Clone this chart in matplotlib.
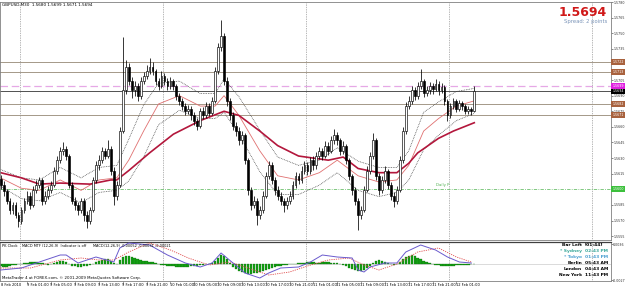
import numpy as np
import matplotlib
matplotlib.use("Agg")
import matplotlib.pyplot as plt
from matplotlib.transforms import blended_transform_factory

BASE = 1.5600  # prices below are pips above this

close_pips = [4, -2, -11, -20, -15, -25, -30, -20, -11, -6,
              -15, -1, 4, 9, -11, -6, -1, 4, 18, 28,
              37, 39, 32, 4, -11, -15, -20, -11, -25, -30,
              -20, 9, 23, 28, 37, 32, 39, 18, -6, 4,
              56, 95, 118, 104, 95, 99, 90, 104, 109, 114,
              118, 114, 104, 99, 109, 104, 99, 104, 99, 90,
              85, 80, 75, 77, 71, 66, 61, 75, 71, 80,
              73, 85, 114, 137, 147, 104, 85, 71, 61, 56,
              47, 52, 28, -1, -15, -11, -25, -20, -6, 13,
              23, 9, -1, -6, -11, -15, -11, -6, 4, 13,
              9, 18, 23, 18, 28, 23, 32, 37, 32, 42,
              37, 47, 52, 47, 37, 42, 28, 13, -1, -11,
              -25, -20, -1, 18, 32, 47, 13, -1, 9, 18,
              4, -6, -11, -1, 28, 56, 80, 85, 95, 90,
              99, 104, 93, 95, 99, 96, 101, 95, 98, 85,
              71, 80, 85, 77, 83, 80, 75, 77, 75, 94]
high_pips = [14, 8, 0, -8, -12, -12, -22, -17, -8, -2,
             -3, 3, 9, 12, 11, -2, 3, 8, 21, 32,
             41, 45, 42, 34, 7, -7, -12, -8, -8, -21,
             -17, 12, 27, 33, 41, 40, 47, 42, 21, 8,
             60, 146, 124, 121, 108, 104, 102, 108, 113, 119,
             126, 122, 116, 107, 114, 112, 107, 108, 106, 101,
             93, 88, 83, 81, 80, 74, 69, 78, 79, 84,
             83, 89, 118, 141, 163, 150, 108, 88, 74, 65,
             60, 56, 54, 30, 2, -6, -8, -16, -2, 17,
             27, 26, 12, 3, -3, -8, -7, -2, 8, 17,
             16, 22, 27, 26, 31, 32, 36, 41, 40, 46,
             45, 51, 58, 55, 49, 46, 44, 30, 15, 2,
             -8, -16, 3, 22, 36, 54, 49, 16, 13, 22,
             20, 7, -3, 3, 32, 60, 84, 90, 99, 98,
             103, 116, 106, 99, 103, 102, 106, 104, 102, 100,
             87, 83, 88, 87, 86, 85, 82, 80, 79, 99]
low_pips = [0, -6, -14, -24, -24, -28, -36, -33, -23, -14,
            -19, -17, -4, 1, -15, -14, -9, -4, 2, 15,
            25, 33, 28, 1, -14, -20, -25, -23, -30, -37,
            -33, -22, 6, 19, 25, 29, 30, 14, -15, -10,
            2, 54, 92, 100, 88, 90, 85, 87, 101, 106,
            111, 110, 100, 95, 97, 100, 95, 96, 95, 86,
            81, 76, 71, 72, 67, 62, 57, 59, 68, 69,
            70, 71, 83, 111, 133, 100, 80, 67, 57, 51,
            43, 44, 24, -5, -20, -18, -34, -29, -23, -8,
            10, 5, -5, -10, -15, -22, -19, -14, -9, 1,
            5, 6, 15, 14, 15, 19, 20, 29, 28, 30,
            33, 35, 44, 43, 33, 34, 24, 9, -5, -15,
            -39, -29, -22, -3, 15, 29, 9, -5, -4, 6,
            0, -10, -17, -14, -3, 25, 53, 77, 82, 86,
            87, 96, 89, 90, 92, 92, 94, 91, 93, 81,
            66, 69, 77, 74, 75, 76, 72, 72, 71, 74]
first_open_pips = 10

# moving averages read at a few bars
slow_bars = [0, 7, 13, 20, 30, 37, 39, 43, 50, 58, 67, 75, 80, 87, 93, 100, 110, 115, 120, 127, 133, 137, 140, 147, 152, 159]
slow_pips = [16, 11, 5, 6, 5, 9, 9, 18, 35, 53, 66, 75, 71, 56, 42, 32, 28, 31, 20, 16, 16, 25, 35, 49, 56, 64]
fast_bars = [0, 7, 13, 20, 27, 33, 39, 43, 48, 53, 60, 67, 72, 75, 80, 87, 93, 100, 107, 113, 120, 127, 133, 137, 142, 147, 153, 159]
fast_pips = [11, 1, -1, 9, -1, 9, 11, 28, 56, 82, 90, 80, 80, 90, 71, 37, 13, 9, 16, 28, 13, 7, 9, 23, 56, 68, 80, 85]
band_pips = [8, 10, 10, 12, 12, 12, 12, 20, 25, 20, 14, 12, 12, 16, 18, 20, 18, 14, 12, 12, 14, 14, 12, 14, 18, 16, 14, 12]

brown_levels = [1.5722, 1.5713, 1.5682, 1.5671]
magenta_level = 1.5699
last_price = 1.5694
green_level = 1.5600

price_ticks = [1.5555, 1.5570, 1.5585, 1.5615, 1.5630, 1.5645, 1.5660, 1.5675, 1.5690,
               1.5705, 1.5735, 1.5750, 1.5765, 1.5780]

# MACD window (values in screen units, zero = baseline)
macd_hist = [-2, -3, -3, -2, -1, -1, 0, 0, 1, 1,
             2, 2, 2, 1, 1, 0, -1, 0, 1, 2,
             3, 3, 2, 0, -2, -2, -3, -3, -2, -2,
             -1, 0, 2, 3, 4, 5, 5, 3, 1, 0,
             4, 7, 8, 8, 7, 6, 5, 4, 3, 3,
             2, 2, 1, 0, -1, -1, -2, -2, -2, -3,
             -3, -3, -3, -3, -2, -2, -2, -1, -1, 0,
             0, 1, 3, 6, 9, 8, 5, 1, -3, -5,
             -7, -8, -9, -10, -10, -9, -9, -8, -7, -6,
             -5, -4, -3, -2, -2, -1, -1, 0, 0, 0,
             1, 1, 1, 2, 2, 2, 1, 1, 2, 2,
             2, 1, 1, 1, 0, -1, -2, -4, -5, -6,
             -7, -7, -6, -4, -2, 1, 3, 4, 3, 2,
             1, 0, -1, 0, 2, 5, 7, 8, 9, 8,
             6, 5, 3, 2, 1, 0, -1, -1, -2, -2,
             -2, -2, -2, -1, -1, -1, -1, -1, 0, 0]
macd_bars = [0, 7, 13, 20, 22, 26, 32, 38, 40, 43, 50, 56, 62, 67, 71, 74, 78, 82, 87, 90, 94, 100, 104, 108, 113, 118, 120, 122, 124, 129, 133, 136, 141, 146, 150, 154, 158]
macd_main = [-6, -4, 2, 9, 9, 1, 7, 2, 16, 21, 19, 9, 1, -3, 1, 11, 1, -9, -14, -9, -4, -3, 2, 9, 7, 6, -6, -8, -3, 1, 1, 12, 19, 14, 7, 2, 1]
sig_bars = [0, 10, 20, 27, 33, 38, 43, 50, 57, 63, 70, 77, 83, 90, 97, 103, 110, 117, 122, 127, 133, 140, 147, 153, 158]
macd_signal = [-4, -4, 4, 6, 4, 4, 12, 21, 14, 6, -1, 2, -4, -11, -8, -2, 4, 6, -1, -6, 0, 12, 16, 7, 2]

time_label_bars = [9, 17, 25, 33, 41, 49, 57, 65, 73, 81, 89, 97, 105, 113, 121, 129, 137, 145, 153]
time_labels = ["9 Feb 01:00", "9 Feb 05:00", "9 Feb 09:00", "9 Feb 13:00", "9 Feb 17:00", "9 Feb 21:00",
               "10 Feb 01:00", "10 Feb 05:00", "10 Feb 09:00", "10 Feb 13:00", "10 Feb 17:00", "10 Feb 21:00",
               "11 Feb 01:00", "11 Feb 05:00", "11 Feb 09:00", "11 Feb 13:00", "11 Feb 17:00", "11 Feb 21:00",
               "12 Feb 01:00"]
day_separators = [6.5, 54.5, 102.5, 150.5, 198.5]

clock_names = ["* Sydney", "* Tokyo", "Berlin", "London", "New York"]
clock_times = ["02:43 PM", "01:43 PM", "05:43 AM", "04:43 AM", "11:43 PM"]
clock_colors = ["#3aa89a", "#4a9fd0", "black", "black", "black"]


def px(p):
    return BASE + np.asarray(p, dtype=float) / 10000.0


W, H = 625, 288
fig = plt.figure(figsize=(W / 100, H / 100), dpi=100)
fig.patch.set_facecolor("white")

x0 = -0.21
x1 = x0 + 611 / 2.979
ax = fig.add_axes([0.0, 1 - 240 / H, 611 / W, 238 / H])
ax2 = fig.add_axes([0.0, 1 - 281 / H, 611 / W, 39 / H], sharex=ax)
for a in (ax, ax2):
    for s in a.spines.values():
        s.set_color("#808080")
        s.set_linewidth(0.6)
    a.set_facecolor("white")
ax2.spines["top"].set_color("#404040")
ax2.spines["top"].set_linewidth(0.9)
ax.set_xlim(x0, x1)
ax.set_ylim(px(-48.7), px(178.6))
ax2.set_ylim(-17, 22)

# day separators
for d in day_separators:
    ax.axvline(d, color="#707070", lw=0.5, ls=(0, (1, 1.5)), zorder=1)
    ax2.axvline(d, color="#707070", lw=0.5, ls=(0, (1, 1.5)), zorder=1)

# horizontal levels
for lv in brown_levels:
    ax.axhline(lv, color="#a49888", lw=0.7, zorder=1)
ax.axhline(magenta_level, color="#e6a8e6", lw=0.9, ls=(0, (6, 3)), zorder=1)
ax.axhline(last_price, color="#505050", lw=0.7, zorder=1)
ax.axhline(green_level, color="#6cbf6c", lw=0.6, ls=(0, (4, 1.5, 1, 1.5)), zorder=1)
ax.text(146.2, green_level + 0.0002, "Daily P", fontsize=2.8, color="#50b050", va="bottom")

# candles
bars = np.arange(len(close_pips))
opens = px([first_open_pips] + close_pips[:-1])
closes = px(close_pips)
ax.vlines(bars, px(low_pips), px(high_pips), color="black", lw=0.55, zorder=3)
up = closes >= opens
body_lo = np.minimum(opens, closes)
body_h = np.abs(closes - opens)
ax.bar(bars[up], body_h[up], bottom=body_lo[up], width=0.62, color="white",
       edgecolor="black", linewidth=0.45, zorder=4)
ax.bar(bars[~up], body_h[~up], bottom=body_lo[~up], width=0.62, color="black",
       edgecolor="black", linewidth=0.45, zorder=4)

# moving averages
fast = np.array(fast_pips)
band = np.array(band_pips)
ax.plot(fast_bars, px(fast + band), color="#404040", lw=0.55, ls=(0, (1, 1.2)), zorder=2)
ax.plot(fast_bars, px(fast - band), color="#404040", lw=0.55, ls=(0, (1, 1.2)), zorder=2)
ax.plot(fast_bars, px(fast), color="#e07070", lw=0.6, zorder=2)
ax.plot(slow_bars, px(slow_pips), color="#b3173c", lw=1.2, zorder=2)

# right price axis
ax.yaxis.tick_right()
ax.set_yticks(price_ticks)
ax.set_yticklabels(["%.4f" % t for t in price_ticks])
ax.tick_params(axis="y", labelsize=2.3, length=1.2, width=0.4, pad=0.4, colors="#303030")
ax.tick_params(axis="x", bottom=False, labelbottom=False)
tr = blended_transform_factory(ax.transAxes, ax.transData)
box_labels = [(lv, "#a8623e") for lv in brown_levels] + [(magenta_level, "#e020e0"),
                                                         (last_price, "black"),
                                                         (green_level, "#3cc03c")]
for lv, col in box_labels:
    ax.text(1.0022, lv, "%.4f" % lv, transform=tr, fontsize=2.3, color="white", va="center",
            ha="left", bbox=dict(boxstyle="square,pad=0.3", fc=col, ec="none"), clip_on=False)

# MACD window
ax2.axhline(0, color="#c0c0c0", lw=0.4, zorder=1)
ax2.bar(bars, macd_hist, width=0.8, color="#14a014", edgecolor="#0b6a0b", linewidth=0.2, zorder=2)
ax2.plot(sig_bars, macd_signal, color="#e05050", lw=0.6, ls=(0, (1.5, 1.2)), zorder=3)
ax2.plot(macd_bars, macd_main, color="#6a5acd", lw=0.7, zorder=3)
ax2.yaxis.tick_right()
ax2.set_yticks([20, -16])
ax2.set_yticklabels(["0.0036", "-0.0027"])
ax2.tick_params(axis="y", labelsize=2.3, length=1.2, width=0.4, pad=0.4, colors="#303030")
ax2.set_xticks(time_label_bars)
ax2.tick_params(axis="x", length=2, width=0.4, colors="#606060", labelbottom=False)

trx = blended_transform_factory(ax2.transData, fig.transFigure)
ax2.text(x0 + 0.3, 1 - 284.5 / H, "8 Feb 2010", transform=trx, fontsize=2.6, va="center", ha="left")
for b, lab in zip(time_label_bars, time_labels):
    ax2.text(b - 0.3, 1 - 284.5 / H, lab, transform=trx, fontsize=2.6, va="center", ha="left")

# texts
def ftext(x, y, s, **kw):
    fig.text(x / W, 1 - y / H, s, va="center", **kw)

ftext(2, 5, "GBPUSD,M30  1.5680 1.5699 1.5671 1.5694", fontsize=3.0, color="black")
ftext(607, 12, "1.5694", fontsize=9, fontweight="bold", color="#d01818", ha="right")
ftext(607, 21, "Spread: 2 points", fontsize=3.8, color="#7a94b8", ha="right")

ftext(2, 246, "PK Clock", fontsize=2.6)
ftext(22, 246, "MACD MTF (12,26,9)  Indicator is off", fontsize=2.5)
ftext(93, 246, "MACD(12,26,9) -0.00052 -0.00031 -0.00021", fontsize=2.5)
ftext(2, 278, "MetaTrader 4 at FOREX.com, \u00a9 2001-2009 MetaQuotes Software Corp.", fontsize=2.8)

ftext(582, 245, "Bar Left", fontsize=3.2, fontweight="bold", ha="right")
ftext(585, 245, "[01:44]", fontsize=3.2, fontweight="bold", ha="left")
for k, (nm, tm, col) in enumerate(zip(clock_names, clock_times, clock_colors)):
    y = 251 + 6 * k
    ftext(582, y, nm, fontsize=3.2, fontweight="bold", ha="right", color=col)
    ftext(585, y, tm, fontsize=3.2, fontweight="bold", ha="left", color=col)

fig.savefig("out.png", dpi=100, facecolor="white")
